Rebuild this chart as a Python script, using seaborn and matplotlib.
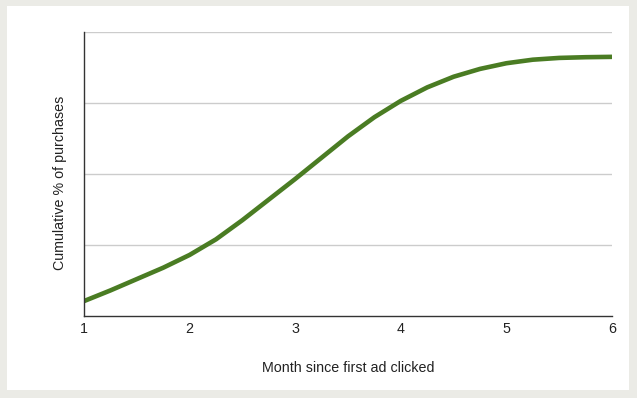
import numpy as np
import pandas as pd
import matplotlib
matplotlib.use("Agg")
import matplotlib.pyplot as plt
import seaborn as sns

month = [1, 1.25, 1.5, 1.75, 2, 2.25, 2.5, 2.75, 3, 3.25, 3.5, 3.75,
         4, 4.25, 4.5, 4.75, 5, 5.25, 5.5, 5.75, 6]
cum_pct = [0.21, 0.36, 0.52, 0.68, 0.86, 1.08, 1.35, 1.64, 1.93, 2.23, 2.53, 2.80,
           3.03, 3.22, 3.37, 3.48, 3.56, 3.61, 3.635, 3.645, 3.65]
x_ticks = [1, 2, 3, 4, 5, 6]
y_grid = [1, 2, 3, 4]

df = pd.DataFrame({"month": month, "cum": cum_pct})

sns.set_style("white")
plt.rcParams['font.family'] = ['Liberation Sans', 'DejaVu Sans']

W, H = 637, 398
fig = plt.figure(figsize=(W / 100, H / 100), dpi=100, facecolor="#ebebe6")
bg = fig.add_axes([7 / W, 8 / H, 622 / W, 384 / H])
bg.set_facecolor("white")
bg.set_xticks([])
bg.set_yticks([])
for s in bg.spines.values():
    s.set_visible(False)
bg.set_zorder(0)

ax = fig.add_axes([84 / W, 1 - 316 / H, 528 / W, 284 / H])
ax.set_zorder(1)
ax.set_facecolor("none")

sns.lineplot(data=df, x="month", y="cum", ax=ax, color="#4a7c23", linewidth=3.3,
             solid_capstyle="butt", solid_joinstyle="round")

ax.set_xlim(1, 6)
ax.set_ylim(0, 4)
ax.set_xticks(x_ticks)
ax.set_xticklabels([str(t) for t in x_ticks], fontsize=10.3, color="#222222")
ax.set_yticks(y_grid)
ax.tick_params(length=0, pad=4, labelleft=False)
ax.grid(axis="y", color="#cccccc", linewidth=1)
ax.set_axisbelow(True)
for s in ["top", "right"]:
    ax.spines[s].set_visible(False)
for s in ["left", "bottom"]:
    ax.spines[s].set_color("#333333")
    ax.spines[s].set_linewidth(1)
ax.set_xlabel("Month since first ad clicked", fontsize=10.3, color="#222222", labelpad=18)
ax.set_ylabel("Cumulative % of purchases", fontsize=10.3, color="#222222")
ax.yaxis.set_label_coords(-0.032, 0.468)

fig.savefig("out.png", dpi=100, facecolor=fig.get_facecolor())
